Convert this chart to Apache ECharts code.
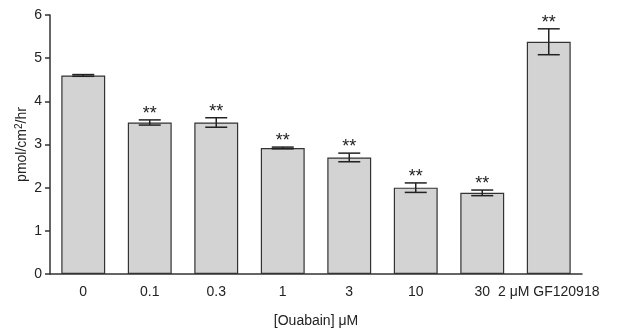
<!DOCTYPE html>
<html>
<head>
<meta charset="utf-8">
<script src="https://cdn.jsdelivr.net/npm/echarts@6/dist/echarts.min.js"></script>
<style>
  html, body { margin: 0; padding: 0; background: #fff; }
  #chart { width: 621px; height: 335px; }
</style>
</head>
<body>
<div id="chart"></div>
<script>
// Ouabain dose series plus the GF120918 control
const categories = ['0', '0.1', '0.3', '1', '3', '10', '30', '2 \u03bcM GF120918'];
const means = [4.6, 3.51, 3.51, 2.92, 2.70, 2.00, 1.88, 5.38];
const errors = [0.02, 0.06, 0.11, 0.02, 0.10, 0.11, 0.065, 0.30];
const significance = ['', '**', '**', '**', '**', '**', '**', '**'];
const yTicks = [0, 1, 2, 3, 4, 5, 6];

const FONT = 'Liberation Sans, Arial, sans-serif';
const chart = echarts.init(document.getElementById('chart'));

const errorData = means.map((m, i) => [i, m - errors[i], m + errors[i], significance[i]]);

chart.setOption({
  animation: false,
  grid: { left: 50, right: 39, top: 15, bottom: 61, outerBoundsMode: 'none', containLabel: false },
  xAxis: {
    type: 'category',
    data: categories,
    name: '[Ouabain] \u03bcM',
    nameLocation: 'middle',
    nameGap: 40,
    nameTextStyle: { color: '#222', fontSize: 14, fontFamily: FONT },
    axisLine: { lineStyle: { color: '#333', width: 1.5 } },
    axisTick: { alignWithLabel: true, length: 6, lineStyle: { color: '#333', width: 1.5 } },
    axisLabel: { color: '#222', fontSize: 14, fontFamily: FONT, margin: 11, interval: 0 }
  },
  yAxis: {
    type: 'value',
    min: yTicks[0],
    max: yTicks[yTicks.length - 1],
    interval: 1,
    name: 'pmol/cm{sup|2}/hr',
    nameLocation: 'middle',
    nameGap: 19,
    nameMoveOverlap: false,
    nameRotate: 90,
    nameTextStyle: {
      color: '#222', fontSize: 14, fontFamily: FONT,
      rich: { sup: { fontSize: 10, verticalAlign: 'top', padding: [0, 0, 7, 0], color: '#222', fontFamily: FONT } }
    },
    axisLine: { show: true, lineStyle: { color: '#333', width: 1.5 } },
    axisTick: { show: true, length: 5, lineStyle: { color: '#333', width: 1.5 } },
    axisLabel: { color: '#222', fontSize: 14, fontFamily: FONT, margin: 8 },
    splitLine: { show: false }
  },
  series: [
    {
      type: 'bar',
      data: means,
      barWidth: '66%',
      itemStyle: { color: '#d3d3d3', borderColor: '#333', borderWidth: 1.2 }
    },
    {
      type: 'custom',
      data: errorData,
      z: 10,
      renderItem: function (params, api) {
        const x = api.value(0);
        const lo = api.coord([x, api.value(1)]);
        const hi = api.coord([x, api.value(2)]);
        const half = 11;
        const style = { stroke: '#222', lineWidth: 1.5 };
        const children = [
          { type: 'line', shape: { x1: lo[0], y1: lo[1], x2: hi[0], y2: hi[1] }, style },
          { type: 'line', shape: { x1: hi[0] - half, y1: hi[1], x2: hi[0] + half, y2: hi[1] }, style },
          { type: 'line', shape: { x1: lo[0] - half, y1: lo[1], x2: lo[0] + half, y2: lo[1] }, style }
        ];
        const mark = api.value(3);
        if (mark) {
          children.push({
            type: 'text',
            style: {
              text: mark, x: hi[0], y: hi[1] - 6,
              align: 'center', verticalAlign: 'middle',
              fontSize: 18, fontFamily: FONT, fill: '#222'
            }
          });
        }
        return { type: 'group', children };
      }
    }
  ]
});
</script>
</body>
</html>
